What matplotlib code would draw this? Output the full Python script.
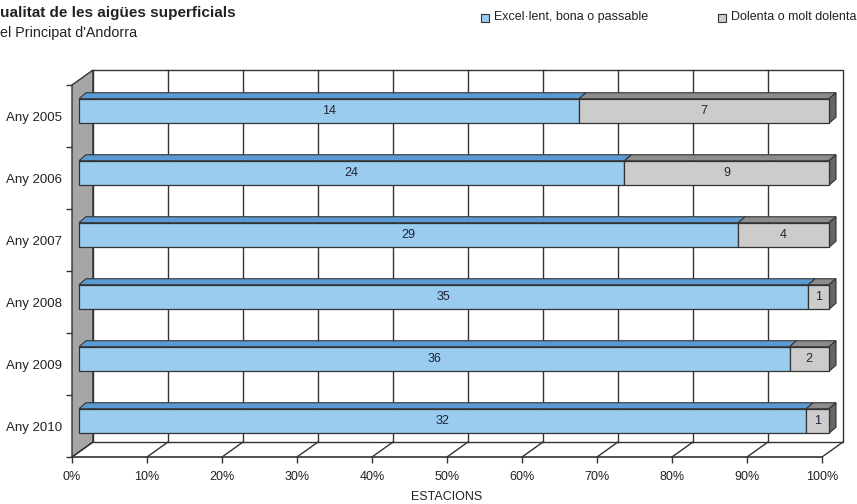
import numpy as np
import matplotlib
matplotlib.use("Agg")
import matplotlib.pyplot as plt
from matplotlib.patches import Polygon, Rectangle

plt.rcParams['font.family'] = ['Liberation Sans', 'DejaVu Sans']

# Data: number of stations per year and water quality class
YEARS = ['Any 2005', 'Any 2006', 'Any 2007', 'Any 2008', 'Any 2009', 'Any 2010']
GOOD = [14, 24, 29, 35, 36, 32]        # Excel·lent, bona o passable
BAD = [7, 9, 4, 1, 2, 1]               # Dolenta o molt dolenta
SERIES_NAMES = ['Excel\u00b7lent, bona o passable', 'Dolenta o molt dolenta']
XTICKS = np.arange(0, 101, 10)

# Colours
BLUE = '#99CCEE'
BLUE_TOP = '#5B9BD3'
GREY = '#CCCCCC'
GREY_TOP = '#8C8C8C'
GREY_SIDE = '#666666'
WALL = '#A6A6A6'
EDGE = '#333333'

W, H = 857, 504
fig = plt.figure(figsize=(W / 100, H / 100), dpi=100)
ax = fig.add_axes([72 / W, (H - 457) / H, 750 / W, 372 / H])
ax.set_xlim(0, 100)
ax.set_ylim(0, len(YEARS))

# pixel -> data unit conversion for the fake 3d depth
px_x = 100 / 750
px_y = len(YEARS) / 372
DX, DY = 21 * px_x, 15 * px_y          # full depth of the walls
OX, OY = 7 * px_x, 5 * px_y            # front face of bars
BDX, BDY = 7 * px_x, 6 * px_y          # depth of bars
BAR_H = 24.5 * px_y

n = len(YEARS)
top = n

# left wall
ax.add_patch(Polygon([(0, 0), (0, top), (DX, top + DY), (DX, DY)], closed=True,
                     facecolor=WALL, edgecolor=EDGE, lw=1, clip_on=False, zorder=1))
# back wall
ax.add_patch(Rectangle((DX, DY), 100, top, facecolor='white', edgecolor=EDGE,
                       lw=1, clip_on=False, zorder=1))
for x in XTICKS[1:-1]:
    ax.plot([x + DX, x + DX], [DY, top + DY], color=EDGE, lw=1, clip_on=False, zorder=2)
# floor
for x in XTICKS:
    ax.plot([x, x + DX], [0, DY], color=EDGE, lw=1, clip_on=False, zorder=2)
ax.plot([0, 100], [0, 0], color=EDGE, lw=1.2, clip_on=False, zorder=2)

# bars
totals = np.array(GOOD) + np.array(BAD)
good_pct = np.array(GOOD) / totals * 100
centers = np.arange(n)[::-1] + 0.5

for yc, gp, g, b in zip(centers, good_pct, GOOD, BAD):
    y0 = yc + OY - BAR_H / 2
    y1 = yc + OY + BAR_H / 2
    segs = [(0, gp, BLUE, BLUE_TOP, g), (gp, 100, GREY, GREY_TOP, b)]
    for s, e, fc, tc, val in segs:
        ax.add_patch(Polygon([(s + OX, y1), (e + OX, y1), (e + OX + BDX, y1 + BDY),
                              (s + OX + BDX, y1 + BDY)], closed=True, facecolor=tc,
                             edgecolor=EDGE, lw=0.8, clip_on=False, zorder=3))
        ax.barh(yc + OY, e - s, left=s + OX, height=BAR_H, color=fc, edgecolor=EDGE,
                lw=0.9, clip_on=False, zorder=4)
        ax.text(OX + (s + e) / 2, yc + OY, str(val), ha='center', va='center',
                fontsize=9, color='#222233', zorder=5)
    ax.add_patch(Polygon([(100 + OX, y0), (100 + OX, y1), (100 + OX + BDX, y1 + BDY),
                          (100 + OX + BDX, y0 + BDY)], closed=True, facecolor=GREY_SIDE,
                         edgecolor=EDGE, lw=0.8, clip_on=False, zorder=3))

# axes and ticks
for sp in ax.spines.values():
    sp.set_visible(False)
ax.set_xticks(XTICKS)
ax.set_xticklabels([f"{x}%" for x in XTICKS], fontsize=9, color='#222222')
ax.tick_params(axis='x', length=4, width=1, color=EDGE, pad=6)
ax.set_yticks(np.arange(0, n + 1))
ax.set_yticklabels([])
ax.tick_params(axis='y', which='major', length=4, width=1, color=EDGE)
ax.set_yticks(centers, minor=True)
ax.set_yticklabels(YEARS, minor=True, fontsize=9.5, color='#222222')
ax.tick_params(axis='y', which='minor', length=0, pad=7)
ax.set_xlabel('ESTACIONS', fontsize=9, color='#222222', labelpad=6)

# titles
fig.text(0, 1 - 13 / H, 'ualitat de les aig\u00fces superficials', fontsize=11,
         fontweight='bold', color='#222222', va='center', ha='left')
fig.text(0, 1 - 33 / H, "el Principat d'Andorra", fontsize=10.3, color='#222222',
         va='center', ha='left')

# legend
for x_px, fc, name in [(481, BLUE, SERIES_NAMES[0]), (718, GREY, SERIES_NAMES[1])]:
    fig.patches.append(Rectangle((x_px / W, 1 - 22 / H), 8 / W, 8 / H, facecolor=fc,
                                 edgecolor=EDGE, lw=0.8, transform=fig.transFigure))
    fig.text((x_px + 13) / W, 1 - 17 / H, name, fontsize=9, color='#222222',
             va='center', ha='left')

fig.savefig('out.png', dpi=100)
